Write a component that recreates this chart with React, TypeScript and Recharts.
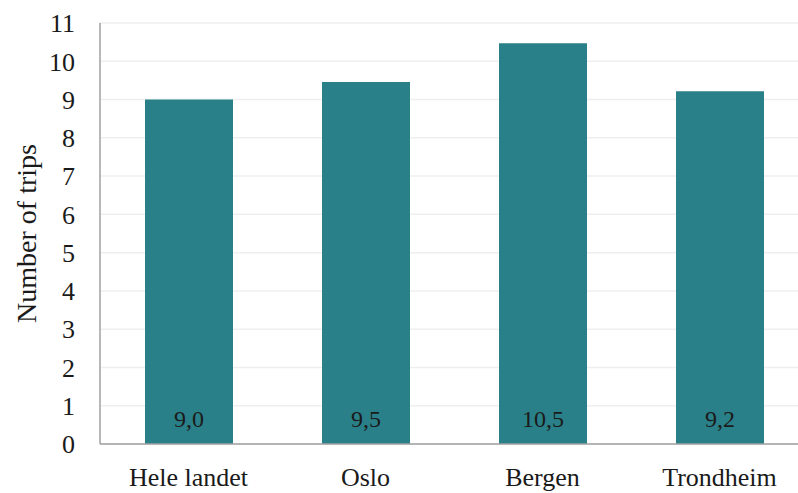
import { BarChart, Bar, XAxis, YAxis, CartesianGrid, LabelList } from "recharts";

// trips per person by area
const areas = ["Hele landet", "Oslo", "Bergen", "Trondheim"];
const trips = [9.0, 9.46, 10.47, 9.22];
const yTicks = [0, 1, 2, 3, 4, 5, 6, 7, 8, 9, 10, 11];

const data = areas.map((area, i) => ({ area, trips: trips[i] }));

const FONT = "'Liberation Serif', 'Times New Roman', serif";
const TEAL = "#2a8088";

const fmt = (v: number) => v.toFixed(1).replace(".", ",");

const BottomLabel = (props: any) => {
  const { x, y, width, height, value } = props;
  return (
    <text
      x={x + width / 2}
      y={y + height - 26}
      dy="0.355em"
      textAnchor="middle"
      fontFamily={FONT}
      fontSize={24}
      fill="#1a1a1a"
    >
      {fmt(value)}
    </text>
  );
};

export default function App() {
  return (
    <div style={{ position: "absolute", left: 0, top: 0, width: 798, height: 493, overflow: "hidden", background: "#fff" }}>
      <BarChart
        width={820}
        height={493}
        data={data}
        margin={{ top: 23, right: 12, bottom: 0, left: 0 }}
        barSize={88}
      >
        <CartesianGrid vertical={false} stroke="#efefef" strokeWidth={1.5} />
        <XAxis
          dataKey="area"
          height={49}
          axisLine={{ stroke: "#a0a0a0", strokeWidth: 1.5 }}
          tickLine={false}
          tickSize={0}
          tickMargin={24}
          tick={{ fontFamily: FONT, fontSize: 26, fill: "#1a1a1a" }}
        />
        <YAxis
          width={100}
          domain={[0, 11]}
          ticks={yTicks}
          interval={0}
          axisLine={{ stroke: "#a0a0a0", strokeWidth: 1.5 }}
          tickLine={false}
          tickSize={0}
          tickMargin={25}
          tick={{ fontFamily: FONT, fontSize: 26, fill: "#1a1a1a" }}
          label={{
            value: "Number of trips",
            angle: -90,
            position: "center",
            dx: -24,
            style: { fontFamily: FONT, fontSize: 28, fill: "#1a1a1a", textAnchor: "middle" },
          }}
        />
        <Bar dataKey="trips" fill={TEAL} isAnimationActive={false}>
          <LabelList dataKey="trips" content={<BottomLabel />} />
        </Bar>
      </BarChart>
    </div>
  );
}
